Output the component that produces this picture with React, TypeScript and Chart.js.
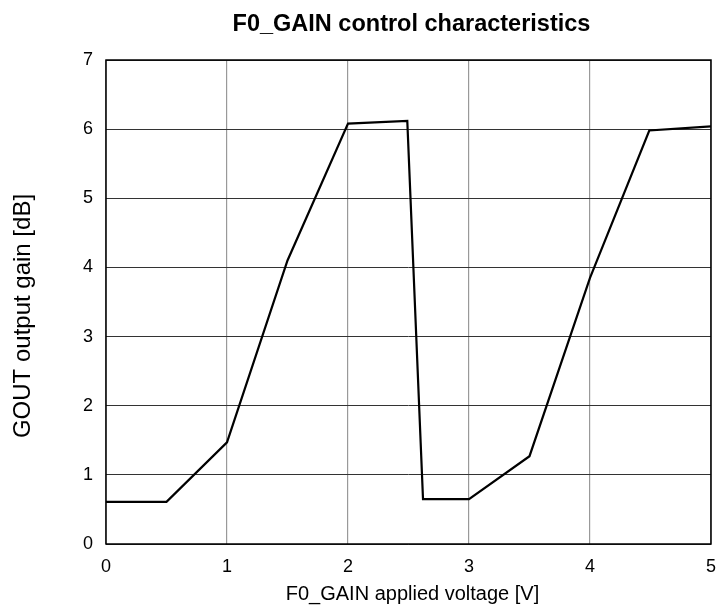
import React, { useEffect, useRef } from "react";
import { Chart, registerables } from "chart.js";

Chart.register(...registerables);

const voltages = [0, 0.5, 1, 1.5, 2, 2.49, 2.62, 3, 3.5, 4, 4.49, 5];
const gains = [0.61, 0.61, 1.47, 4.1, 6.08, 6.12, 0.65, 0.65, 1.27, 3.85, 5.98, 6.04];
const xTicks = [0, 1, 2, 3, 4, 5];
const yTicks = [0, 1, 2, 3, 4, 5, 6, 7];

const titleText = "F0_GAIN control characteristics";
const xTitle = "F0_GAIN applied voltage [V]";
const yTitle = "GOUT output gain [dB]";

const FONT = "'Liberation Sans', Arial, sans-serif";

export default function App() {
  const ref = useRef<HTMLCanvasElement | null>(null);
  useEffect(() => {
    if (!ref.current) return;
    const decorPlugin = {
      id: "decor",
      afterDatasetsDraw(chart: any) {
        const { ctx, chartArea: a } = chart;
        ctx.save();
        ctx.strokeStyle = "#000";
        ctx.lineWidth = 1.5;
        ctx.strokeRect(a.left, a.top, a.right - a.left, a.bottom - a.top);
        const cx = (a.left + a.right) / 2;
        const cy = (a.top + a.bottom) / 2;
        ctx.fillStyle = "#000";
        ctx.textAlign = "center";
        ctx.textBaseline = "middle";
        ctx.font = `bold 23.5px ${FONT}`;
        ctx.fillText(titleText, cx + 3, 24.5);
        ctx.font = `20px ${FONT}`;
        ctx.fillText(xTitle, cx + 4, 594);
        ctx.translate(23, cy + 14);
        ctx.rotate(-Math.PI / 2);
        ctx.font = `24px ${FONT}`;
        ctx.fillText(yTitle, 0, 0);
        ctx.restore();
      },
    };
    const chart = new Chart(ref.current, {
      type: "line",
      data: {
        datasets: [
          {
            data: voltages.map((v, i) => ({ x: v, y: gains[i] })),
            borderColor: "#000",
            borderWidth: 2.2,
            pointRadius: 0,
            tension: 0,
            fill: false,
          },
        ],
      },
      options: {
        animation: false,
        responsive: false,
        devicePixelRatio: 1,
        layout: { padding: { top: 60, right: 11, bottom: 0, left: 0 } },
        plugins: {
          legend: { display: false },
          tooltip: { enabled: false },
          title: { display: false },
        },
        scales: {
          x: {
            type: "linear",
            min: 0,
            max: 5,
            afterBuildTicks(s: any) {
              s.ticks = xTicks.map((v) => ({ value: v }));
            },
            afterFit(s: any) {
              s.height = 69;
              s.paddingLeft = 0;
              s.paddingRight = 0;
            },
            ticks: { color: "#000", font: { family: FONT, size: 18 }, padding: 12 },
            grid: { color: "#999", lineWidth: 1.2, drawTicks: false },
            border: { display: false },
          },
          y: {
            type: "linear",
            min: 0,
            max: 7,
            afterBuildTicks(s: any) {
              s.ticks = yTicks.map((v) => ({ value: v }));
            },
            afterFit(s: any) {
              s.width = 106;
              s.paddingTop = 0;
              s.paddingBottom = 0;
            },
            ticks: { color: "#000", font: { family: FONT, size: 18 }, padding: 13 },
            grid: { color: "#333", lineWidth: 1, drawTicks: false },
            border: { display: false },
          },
        },
      },
      plugins: [decorPlugin],
    } as any);
    return () => chart.destroy();
  }, []);
  return (
    <div style={{ position: "fixed", left: 0, top: 0, width: 722, height: 613, background: "#fff" }}>
      <canvas ref={ref} width={722} height={613} style={{ width: 722, height: 613 }} />
    </div>
  );
}
